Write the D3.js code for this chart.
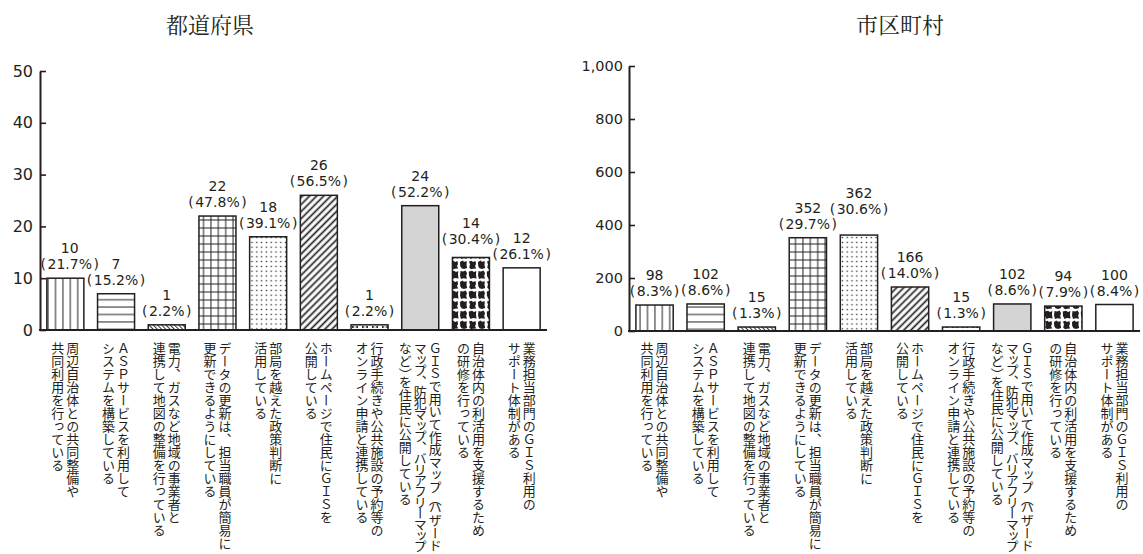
<!DOCTYPE html>
<html><head><meta charset="utf-8">
<script src="https://cdn.jsdelivr.net/npm/d3@7"></script>
<style>body{margin:0;background:#fff}svg{display:block}</style>
</head><body>
<svg id="c" width="1143" height="554"></svg>
<script>
// ---------- data ----------
const categories = [
  ["周辺自治体との共同整備や", "共同利用を行っている"],
  ["ＡＳＰサービスを利用して", "システムを構築している"],
  ["電力、ガスなど地域の事業者と", "連携して地図の整備を行っている"],
  ["データの更新は、担当職員が簡易に", "更新できるようにしている"],
  ["部局を越えた政策判断に", "活用している"],
  ["ホームページで住民にＧＩＳを", "公開している"],
  ["行政手続きや公共施設の予約等の", "オンライン申請と連携している"],
  ["ＧＩＳで用いて作成マップ（ハザード", "マップ、防犯マップ、バリアフリーマップ", "など）を住民に公開している"],
  ["自治体内の利活用を支援するため", "の研修を行っている"],
  ["業務担当部門のＧＩＳ利用の", "サポート体制がある"]
];
const prefTitle = "都道府県";
const prefCounts = [10, 7, 1, 22, 18, 26, 1, 24, 14, 12];
const prefPct = ["21.7", "15.2", "2.2", "47.8", "39.1", "56.5", "2.2", "52.2", "30.4", "26.1"];
const prefTicks = [0, 10, 20, 30, 40, 50];

const muniTitle = "市区町村";
const muniCounts = [98, 102, 15, 352, 362, 166, 15, 102, 94, 100];
const muniPct = ["8.3", "8.6", "1.3", "29.7", "30.6", "14.0", "1.3", "8.6", "7.9", "8.4"];
const muniTicks = [0, 200, 400, 600, 800, 1000];

// ---------- setup ----------
const ink = "#231f20";
const svg = d3.select("#c");
const defs = svg.append("defs");

function pattern(id, w, h, draw, transform) {
  const p = defs.append("pattern").attr("id", id)
    .attr("patternUnits", "userSpaceOnUse").attr("width", w).attr("height", h);
  if (transform) p.attr("patternTransform", transform);
  p.append("rect").attr("width", w).attr("height", h).attr("fill", "#fff");
  draw(p);
}
// 0 vertical lines
pattern("p0", 7.4, 10, p => p.append("line").attr("x1", 3.7).attr("x2", 3.7).attr("y1", 0).attr("y2", 10).attr("stroke", ink).attr("stroke-width", 1));
// 1 horizontal lines
pattern("p1", 10, 7.4, p => p.append("line").attr("x1", 0).attr("x2", 10).attr("y1", 3.7).attr("y2", 3.7).attr("stroke", ink).attr("stroke-width", 1));
// 2 dense back diagonal
pattern("p2", 3, 10, p => p.append("line").attr("x1", 1.5).attr("x2", 1.5).attr("y1", 0).attr("y2", 10).attr("stroke", ink).attr("stroke-width", 0.9), "rotate(-45)");
// 3 grid
pattern("p3", 7.4, 8, p => {
  p.append("line").attr("x1", 3.7).attr("x2", 3.7).attr("y1", 0).attr("y2", 8).attr("stroke", ink).attr("stroke-width", 1);
  p.append("line").attr("x1", 0).attr("x2", 7.4).attr("y1", 4).attr("y2", 4).attr("stroke", ink).attr("stroke-width", 1);
});
// 4 dots
pattern("p4", 4.8, 4.8, p => p.append("circle").attr("cx", 2.4).attr("cy", 2.4).attr("r", 0.8).attr("fill", ink));
// 5 forward diagonal
pattern("p5", 5, 10, p => p.append("line").attr("x1", 2.5).attr("x2", 2.5).attr("y1", 0).attr("y2", 10).attr("stroke", ink).attr("stroke-width", 1.7), "rotate(45)");
// 6 small dashes / bow-ties
pattern("p6", 10, 6, p => p.append("path").attr("d", "M2,1.8 L5,3 L2,4.2Z M8,1.8 L5,3 L8,4.2Z").attr("fill", ink));
// 7 light grey
pattern("p7", 10, 10, p => p.select("rect").attr("fill", "#d4d4d4"));
// 8 cow print
pattern("p8", 18, 20, p => {
  const blobs = [
    "M1,1.5 L3.5,0.8 L5,2 L7.5,1 L8,4 L7,6 L8.2,8.5 L5,8.8 L3,9.3 L1.2,7.5 L2,4.5 Z",
    "M10,2 L12.5,0.5 L14,1.8 L16.8,1.2 L16.5,5 L17.2,8 L14,9 L11.5,8.2 L10.2,6 Z",
    "M0.8,11.5 L4,10.8 L6,12 L8.3,11 L8,14.5 L8.5,18.5 L5,18 L2.5,19 L1,16 Z",
    "M10.5,11 L13,11.5 L15.5,10.5 L17,13 L16.2,16 L17,18.8 L13.5,18.2 L11,19 L10,15.5 Z"
  ];
  blobs.forEach(d => p.append("path").attr("d", d).attr("fill", ink));
});
// 9 white
pattern("p9", 10, 10, p => {});

// ---------- panel ----------
function drawPanel(cfg) {
  const g = svg.append("g");
  const x = d3.scaleBand().domain(d3.range(categories.length))
    .range(cfg.xRange).paddingInner(0.27).paddingOuter(0.135);
  const y = d3.scaleLinear().domain([0, d3.max(cfg.ticks)]).range(cfg.yRange);
  const axisX = cfg.xRange[0];

  // title
  g.append("text").attr("x", cfg.titleX).attr("y", 33).attr("text-anchor", "middle")
    .attr("font-family", "'Noto Serif CJK JP','Noto Sans CJK JP',serif")
    .attr("font-size", 22).attr("fill", ink).text(cfg.title);

  // bars
  g.selectAll("rect.bar").data(cfg.counts).join("rect").attr("class", "bar")
    .attr("x", (d, i) => x(i)).attr("width", x.bandwidth())
    .attr("y", d => y(d)).attr("height", d => y(0) - y(d))
    .attr("fill", (d, i) => `url(#p${i})`)
    .attr("stroke", ink).attr("stroke-width", 1.5);

  // y axis
  const ax = g.append("g").attr("transform", `translate(${axisX},0)`)
    .call(d3.axisLeft(y).tickValues(cfg.ticks).tickFormat(d3.format(","))
      .tickSizeInner(-6).tickSizeOuter(0).tickPadding(cfg.tickPad));
  ax.select(".domain").attr("stroke", ink).attr("stroke-width", 2);
  ax.selectAll(".tick line").attr("stroke", ink).attr("stroke-width", 1.6);
  ax.selectAll(".tick text").attr("font-family", "'DejaVu Sans',sans-serif")
    .attr("font-size", cfg.tickFont).attr("fill", ink);

  // baseline
  g.append("line").attr("x1", axisX - 1).attr("x2", cfg.xRange[1])
    .attr("y1", y(0)).attr("y2", y(0)).attr("stroke", ink).attr("stroke-width", 2);

  // category labels (vertical)
  const colPitch = 15, labelTop = 342, labelBottom = 551;
  categories.forEach((lines, i) => {
    const cx = x(i) + x.bandwidth() / 2;
    lines.forEach((ln, j) => {
      const off = ((lines.length - 1) / 2 - j) * colPitch;
      const t = g.append("text").attr("x", cx + off).attr("y", labelTop)
        .style("writing-mode", "vertical-rl")
        .attr("font-family", "'Noto Sans CJK JP',sans-serif")
        .attr("font-size", 13).attr("fill", ink);
      ln.split(/([（）])/).filter(s => s.length).forEach(seg => {
        const ts = t.append("tspan").text(seg);
        if (seg === "（" || seg === "）") ts.style("letter-spacing", "-5px");
      });
      // tighten columns that would run past the bottom edge
      const bb = t.node().getBBox();
      const over = bb.y + bb.height - labelBottom;
      if (over > 0) {
        t.style("letter-spacing", (-over / ln.length).toFixed(2) + "px");
      }
    });
  });

  // value labels with simple collision avoidance
  const fs = 14, lineGap = 16, capH = 10.5, gap = 9, pad = 4;
  const labels = cfg.counts.map((v, i) => {
    const lg = g.append("g");
    const tn = lg.append("text").attr("text-anchor", "middle")
      .attr("font-family", "'DejaVu Sans',sans-serif").attr("font-size", fs).attr("fill", ink)
      .text(d3.format(",")(v));
    const tp = lg.append("text").attr("text-anchor", "middle")
      .attr("font-family", "'DejaVu Sans',sans-serif").attr("font-size", fs).attr("fill", ink);
    tp.append("tspan").text("(");
    tp.append("tspan").attr("dx", 1.5).text(cfg.pct[i] + "%");
    tp.append("tspan").attr("dx", 1.5).text(")");
    const numW = tn.node().getBBox().width;
    const pctW = tp.node().getBBox().width - 1;
    let cx = x(i) + x.bandwidth() / 2;
    if (cx - pctW / 2 < axisX + 1) cx = axisX + 1 + pctW / 2;
    return { i, v, tn, tp, numW, pctW, cx, b: y(v) - gap };
  });
  const placed = cfg.counts.map((v, i) => ({ x0: x(i), x1: x(i) + x.bandwidth(), y0: y(v), y1: y(0) }));
  const order = labels.slice().sort((a, b) => a.v - b.v || a.i - b.i);
  order.forEach(L => {
    for (let k = 0; k < 60; k++) {
      const own = [
        { x0: L.cx - L.numW / 2, x1: L.cx + L.numW / 2, y0: L.b - lineGap - capH, y1: L.b - lineGap },
        { x0: L.cx - L.pctW / 2, x1: L.cx + L.pctW / 2, y0: L.b - capH, y1: L.b }
      ];
      let moved = false;
      for (const o of own) {
        for (const P of placed) {
          if (o.x1 > P.x0 && o.x0 < P.x1 && o.y1 > P.y0 - pad && o.y0 < P.y1 + pad) {
            L.b -= (o.y1 - (P.y0 - pad)) + 0.01;
            moved = true; break;
          }
        }
        if (moved) break;
      }
      if (!moved) {
        own.forEach(o => placed.push(o));
        break;
      }
    }
    L.tn.attr("x", L.cx).attr("y", L.b - lineGap);
    L.tp.attr("x", L.cx).attr("y", L.b);
  });
}

drawPanel({ title: prefTitle, titleX: 210, counts: prefCounts, pct: prefPct, ticks: prefTicks,
  xRange: [40, 547], yRange: [330, 71], tickFont: 16, tickPad: 7 });
drawPanel({ title: muniTitle, titleX: 900, counts: muniCounts, pct: muniPct, ticks: muniTicks,
  xRange: [629, 1140], yRange: [331, 66], tickFont: 14.5, tickPad: 6 });
</script>
</body></html>
